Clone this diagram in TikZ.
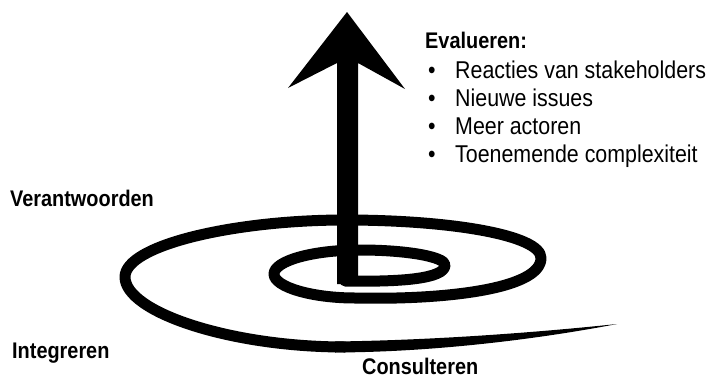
\documentclass[tikz,border=0pt]{standalone}
\usepackage{fontspec}
\setmainfont{Liberation Sans}[FakeStretch=0.88]
\begin{document}
\begin{tikzpicture}[x=1pt,y=-1pt,
  lbl/.style={anchor=base west,inner sep=0pt,font=\fontsize{22.6}{26}\selectfont\bfseries},
  itm/.style={anchor=base west,inner sep=0pt,font=\fontsize{24.3}{28}\selectfont},
  spir/.style={line width=11pt,line cap=round,line join=round}]
\useasboundingbox[fill=white] (0,0) rectangle (711,380);
% spiral
\draw[spir] (345,281) .. controls (400,282) and (445,279) .. (445,265)
  .. controls (445,257) and (408,250) .. (360,250)
  .. controls (312,250) and (274,261) .. (274,274)
  .. controls (274,287) and (312,298) .. (355,298)
  .. controls (440,300) and (541,290) .. (541,258)
  .. controls (541,235) and (450,220) .. (345,220)
  .. controls (235,220) and (125,245) .. (125,277)
  .. controls (125,312) and (230,347) .. (345,347);
% tapering tail
\fill (335,341.5) .. controls (450,340) and (560,330) .. (617,324)
  .. controls (560,335) and (450,352) .. (335,352.5) -- cycle;
% arrow
\fill (347,12) -- (405,89) -- (358,63) -- (358,284) -- (337,284) -- (337,63) -- (288,88) -- cycle;
% texts
\node[lbl] (eval) at (425,48) {Evalueren:};
\node[itm] (b1) at (428,78) {•};
\node[itm] (t1) at (455,78) {Reacties van stakeholders};
\node[itm] (b2) at (428,106) {•};
\node[itm] (t2) at (455,106) {Nieuwe issues};
\node[itm] (b3) at (428,134) {•};
\node[itm] (t3) at (455,134) {Meer actoren};
\node[itm] (b4) at (428,162) {•};
\node[itm] (t4) at (455,162) {Toenemende complexiteit};
\node[lbl] (verant) at (10,206) {Verantwoorden};
\node[lbl] (integr) at (12,358) {Integreren};
\node[lbl] (consul) at (362,374) {Consulteren};
\end{tikzpicture}
\end{document}
